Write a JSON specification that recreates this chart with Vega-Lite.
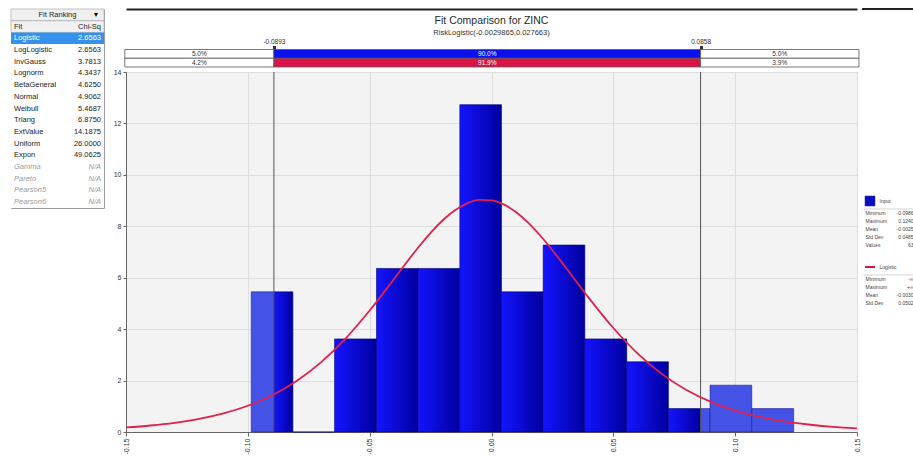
{
  "$schema": "https://vega.github.io/schema/vega-lite/v6.json",
  "background": "white",
  "padding": {"left": 10, "top": 8, "right": 0, "bottom": 0},
  "config": {
    "font": "Liberation Sans",
    "view": {"stroke": null},
    "axis": {"labelFont": "Liberation Sans", "labelColor": "#333333", "domainColor": "#666666", "tickColor": "#666666", "titleFont": "Liberation Sans"}
  },
  "datasets": {
    "fits": [
      {"rank": -1, "fit": "Fit Ranking", "chi": "▼"},
      {"rank": 0, "fit": "Fit", "chi": "Chi-Sq"},
      {"rank": 1, "fit": "Logistic", "chi": "2.6563"},
      {"rank": 2, "fit": "LogLogistic", "chi": "2.6563"},
      {"rank": 3, "fit": "InvGauss", "chi": "3.7813"},
      {"rank": 4, "fit": "Lognorm", "chi": "4.3437"},
      {"rank": 5, "fit": "BetaGeneral", "chi": "4.6250"},
      {"rank": 6, "fit": "Normal", "chi": "4.9062"},
      {"rank": 7, "fit": "Weibull", "chi": "5.4687"},
      {"rank": 8, "fit": "Triang", "chi": "6.8750"},
      {"rank": 9, "fit": "ExtValue", "chi": "14.1875"},
      {"rank": 10, "fit": "Uniform", "chi": "26.0000"},
      {"rank": 11, "fit": "Expon", "chi": "49.0625"},
      {"rank": 12, "fit": "Gamma", "chi": "N/A"},
      {"rank": 13, "fit": "Pareto", "chi": "N/A"},
      {"rank": 14, "fit": "Pearson5", "chi": "N/A"},
      {"rank": 15, "fit": "Pearson6", "chi": "N/A"}
    ],
    "heading": [
      {"part": "title", "text": "Fit Comparison for ZINC"},
      {"part": "subtitle", "text": "RiskLogistic(-0.0029865,0.027663)"}
    ],
    "cover": [
      {"row": "Input", "lo": -0.1505, "hi": -0.0893, "label": "5.0%", "seg": "side"},
      {"row": "Input", "lo": -0.0893, "hi": 0.0858, "label": "90.0%", "seg": "mid"},
      {"row": "Input", "lo": 0.0858, "hi": 0.1508, "label": "5.0%", "seg": "side"},
      {"row": "Logistic", "lo": -0.1505, "hi": -0.0893, "label": "4.2%", "seg": "side"},
      {"row": "Logistic", "lo": -0.0893, "hi": 0.0858, "label": "91.9%", "seg": "mid"},
      {"row": "Logistic", "lo": 0.0858, "hi": 0.1508, "label": "3.9%", "seg": "side"}
    ],
    "bins": [
      {"lo": -0.0986, "hi": -0.0893, "density": 5.45, "part": "tail"},
      {"lo": -0.0893, "hi": -0.0815, "density": 5.45, "part": "body"},
      {"lo": -0.0815, "hi": -0.0644, "density": 0, "part": "body"},
      {"lo": -0.0644, "hi": -0.0472, "density": 3.62, "part": "body"},
      {"lo": -0.0472, "hi": -0.0301, "density": 6.36, "part": "body"},
      {"lo": -0.0301, "hi": -0.0130, "density": 6.36, "part": "body"},
      {"lo": -0.0130, "hi": 0.0041, "density": 12.73, "part": "body"},
      {"lo": 0.0041, "hi": 0.0212, "density": 5.45, "part": "body"},
      {"lo": 0.0212, "hi": 0.0383, "density": 7.27, "part": "body"},
      {"lo": 0.0383, "hi": 0.0555, "density": 3.62, "part": "body"},
      {"lo": 0.0555, "hi": 0.0726, "density": 2.73, "part": "body"},
      {"lo": 0.0726, "hi": 0.0858, "density": 0.91, "part": "body"},
      {"lo": 0.0858, "hi": 0.0897, "density": 0.91, "part": "tail"},
      {"lo": 0.0897, "hi": 0.1068, "density": 1.82, "part": "tail"},
      {"lo": 0.1068, "hi": 0.1240, "density": 0.91, "part": "tail"}
    ],
    "marks": [{"v": -0.0893}, {"v": 0.0858}],
    "curve": [
      {"x": -0.15, "pdf": 0.176}, {"x": -0.14, "pdf": 0.252}, {"x": -0.13, "pdf": 0.359},
      {"x": -0.12, "pdf": 0.511}, {"x": -0.11, "pdf": 0.725}, {"x": -0.10, "pdf": 1.022},
      {"x": -0.09, "pdf": 1.430}, {"x": -0.08, "pdf": 1.982}, {"x": -0.07, "pdf": 2.706},
      {"x": -0.06, "pdf": 3.622}, {"x": -0.05, "pdf": 4.723}, {"x": -0.04, "pdf": 5.952},
      {"x": -0.03, "pdf": 7.184}, {"x": -0.025, "pdf": 7.746}, {"x": -0.02, "pdf": 8.234},
      {"x": -0.015, "pdf": 8.624}, {"x": -0.01, "pdf": 8.894}, {"x": -0.005, "pdf": 9.026},
      {"x": 0.0, "pdf": 9.011}, {"x": 0.005, "pdf": 8.852}, {"x": 0.01, "pdf": 8.558},
      {"x": 0.015, "pdf": 8.146}, {"x": 0.02, "pdf": 7.641}, {"x": 0.025, "pdf": 7.069},
      {"x": 0.03, "pdf": 6.457}, {"x": 0.04, "pdf": 5.208}, {"x": 0.05, "pdf": 4.045},
      {"x": 0.06, "pdf": 3.051}, {"x": 0.07, "pdf": 2.251}, {"x": 0.08, "pdf": 1.633},
      {"x": 0.09, "pdf": 1.172}, {"x": 0.10, "pdf": 0.833}, {"x": 0.11, "pdf": 0.588},
      {"x": 0.12, "pdf": 0.414}, {"x": 0.13, "pdf": 0.291}, {"x": 0.14, "pdf": 0.203},
      {"x": 0.15, "pdf": 0.142}
    ],
    "legend": [
      {"line": 0, "kind": "frame"},
      {"line": 48, "name": "Input", "kind": "series"},
      {"line": 50, "kind": "sep"},
      {"line": 51, "name": "Minimum", "value": "-0.0986", "kind": "stat"},
      {"line": 53, "name": "Maximum", "value": "0.1240", "kind": "stat"},
      {"line": 55, "name": "Mean", "value": "-0.0025", "kind": "stat"},
      {"line": 57, "name": "Std Dev", "value": "0.0485", "kind": "stat"},
      {"line": 59, "name": "Values", "value": "63", "kind": "stat"},
      {"line": 64.5, "name": "Logistic", "kind": "series"},
      {"line": 66.5, "kind": "sep"},
      {"line": 67.6, "name": "Minimum", "value": "-∞", "kind": "stat"},
      {"line": 69.6, "name": "Maximum", "value": "+∞", "kind": "stat"},
      {"line": 71.6, "name": "Mean", "value": "-0.0030", "kind": "stat"},
      {"line": 73.6, "name": "Std Dev", "value": "0.0502", "kind": "stat"}
    ]
  },
  "spacing": 7,
  "hconcat": [
    {
      "width": 93,
      "height": 199,
      "data": {"name": "fits"},
      "view": {"stroke": "#9c9c9c", "fill": "white"},
      "encoding": {
        "y": {"field": "rank", "type": "ordinal", "axis": null, "scale": {"domain": [-1, 0, 1, 2, 3, 4, 5, 6, 7, 8, 9, 10, 11, 12, 13, 14, 15], "paddingInner": 0, "paddingOuter": 0}}
      },
      "layer": [
        {
          "mark": {"type": "rect", "strokeWidth": 0.8},
          "encoding": {
            "x": {"datum": 0, "type": "quantitative", "scale": {"domain": [0, 1], "nice": false, "zero": false}, "axis": null},
            "x2": {"datum": 1},
            "fill": {"condition": [{"test": "datum.rank == 1", "value": "#3592ec"}, {"test": "datum.rank <= 0", "value": "#f0f0f0"}], "value": "#ffffff"},
            "stroke": {"condition": {"test": "datum.rank <= 0", "value": "#b4b4b4"}, "value": "transparent"}
          }
        },
        {
          "transform": [{"filter": "datum.rank >= 0 && datum.rank <= 11"}],
          "mark": {"type": "text", "align": "left", "dx": 3, "fontSize": 7.5},
          "encoding": {
            "x": {"datum": 0, "type": "quantitative"},
            "text": {"field": "fit"},
            "color": {"condition": {"test": "datum.rank == 1", "value": "#ffffff"}, "value": "#222222"}
          }
        },
        {
          "transform": [{"filter": "datum.rank >= 0 && datum.rank <= 11"}],
          "mark": {"type": "text", "align": "right", "dx": -3, "fontSize": 7.5},
          "encoding": {
            "x": {"datum": 1, "type": "quantitative"},
            "text": {"field": "chi"},
            "color": {"condition": {"test": "datum.rank == 1", "value": "#ffffff"}, "value": "#222222"}
          }
        },
        {
          "transform": [{"filter": "datum.rank >= 12"}],
          "mark": {"type": "text", "align": "left", "dx": 3, "fontSize": 7.5, "fontStyle": "italic", "color": "#9a9a9a"},
          "encoding": {"x": {"datum": 0, "type": "quantitative"}, "text": {"field": "fit"}}
        },
        {
          "transform": [{"filter": "datum.rank >= 12"}],
          "mark": {"type": "text", "align": "right", "dx": -3, "fontSize": 7.5, "fontStyle": "italic", "color": "#9a9a9a"},
          "encoding": {"x": {"datum": 1, "type": "quantitative"}, "text": {"field": "chi"}}
        },
        {
          "transform": [{"filter": "datum.rank == -1"}],
          "mark": {"type": "text", "align": "center", "fontSize": 7.5, "color": "#222222"},
          "encoding": {"x": {"datum": 0.5, "type": "quantitative"}, "text": {"field": "fit"}}
        },
        {
          "transform": [{"filter": "datum.rank == -1"}],
          "mark": {"type": "text", "align": "center", "fontSize": 7, "color": "#111111", "dx": -8},
          "encoding": {"x": {"datum": 1, "type": "quantitative"}, "text": {"field": "chi"}}
        }
      ]
    },
    {
      "spacing": -4,
      "hconcat": [
        {
          "bounds": "flush",
          "spacing": 4.5,
          "vconcat": [
            {
              "width": 731,
              "height": 35.5,
              "data": {"name": "heading"},
              "encoding": {
                "y": {"field": "part", "type": "nominal", "axis": null, "scale": {"type": "point", "domain": ["title", "subtitle"], "padding": 1.368}},
                "x": {"datum": 0.5, "type": "quantitative", "scale": {"domain": [0, 1], "nice": false, "zero": false}, "axis": {"orient": "top", "domain": true, "domainColor": "#222222", "domainWidth": 2, "ticks": false, "labels": false, "grid": false, "title": null}}
              },
              "layer": [
                {
                  "transform": [{"filter": "datum.part == 'title'"}],
                  "mark": {"type": "text", "fontSize": 10.5, "color": "#2a2a2a"},
                  "encoding": {"text": {"field": "text"}}
                },
                {
                  "transform": [{"filter": "datum.part == 'subtitle'"}],
                  "mark": {"type": "text", "fontSize": 7.5, "color": "#333333"},
                  "encoding": {"text": {"field": "text"}}
                }
              ]
            },
            {
              "width": 731,
              "height": 17.5,
              "data": {"name": "cover"},
              "transform": [{"calculate": "(datum.lo + datum.hi) / 2", "as": "mid"}],
              "encoding": {
                "y": {"field": "row", "type": "nominal", "axis": null, "scale": {"domain": ["Input", "Logistic"], "paddingInner": 0, "paddingOuter": 0}}
              },
              "layer": [
                {
                  "mark": {"type": "rect", "stroke": "#555555", "strokeWidth": 0.8, "clip": false},
                  "encoding": {
                    "x": {
                      "field": "lo", "type": "quantitative", "title": null,
                      "scale": {"domain": [-0.15, 0.15], "nice": false, "zero": false},
                      "axis": {"orient": "top", "values": [-0.0893, 0.0858], "labelExpr": "replace(format(datum.value, '.4f'), '\u2212', '-')", "domain": false, "grid": false, "tickSize": 4, "tickWidth": 3, "tickColor": "#333333", "labelFontSize": 6.5, "labelPadding": 1, "labelFlush": false}
                    },
                    "x2": {"field": "hi"},
                    "fill": {"condition": [{"test": "datum.seg == 'side'", "value": "#ffffff"}, {"test": "datum.row == 'Input'", "value": "#0a10ee"}], "value": "#dc1446"}
                  }
                },
                {
                  "mark": {"type": "text", "fontSize": 6.5},
                  "encoding": {
                    "x": {"field": "mid", "type": "quantitative", "title": null},
                    "text": {"field": "label"},
                    "color": {"condition": {"test": "datum.seg == 'mid'", "value": "#ffffff"}, "value": "#333333"}
                  }
                }
              ]
            },
            {
              "width": 731,
              "height": 360,
              "view": {"fill": "#f3f3f3", "stroke": "#bbbbbb"},
              "layer": [
                {
                  "data": {"name": "bins"},
                  "transform": [{"filter": "datum.part == 'body'"}],
                  "mark": {
                    "type": "rect",
                    "stroke": "#00007a",
                    "strokeWidth": 0.6,
                    "fill": {"gradient": "linear", "x1": 0, "y1": 0, "x2": 1, "y2": 0, "stops": [{"offset": 0, "color": "#1414ff"}, {"offset": 1, "color": "#00009e"}]}
                  },
                  "encoding": {
                    "x": {
                      "field": "lo", "type": "quantitative", "title": null,
                      "scale": {"domain": [-0.15, 0.15], "nice": false, "zero": false},
                      "axis": {"values": [-0.15, -0.1, -0.05, 0, 0.05, 0.1, 0.15], "labelExpr": "replace(format(datum.value, '.2f'), '\u2212', '-')", "labelAngle": -90, "grid": true, "gridColor": "#dedede", "tickSize": 4, "labelFontSize": 7, "labelPadding": 2, "labelFlush": false}
                    },
                    "x2": {"field": "hi"},
                    "y": {
                      "field": "density", "type": "quantitative", "title": null,
                      "scale": {"domain": [0, 14], "nice": false},
                      "axis": {"values": [0, 2, 4, 6, 8, 10, 12, 14], "grid": true, "gridColor": "#dedede", "tickSize": 3, "labelFontSize": 7, "labelPadding": 2}
                    },
                    "y2": {"datum": 0}
                  }
                },
                {
                  "data": {"name": "bins"},
                  "transform": [{"filter": "datum.part == 'tail'"}],
                  "mark": {"type": "rect", "stroke": "#1a1a9a", "strokeWidth": 0.6, "fill": "#4452e6"},
                  "encoding": {
                    "x": {"field": "lo", "type": "quantitative", "title": null},
                    "x2": {"field": "hi"},
                    "y": {"field": "density", "type": "quantitative", "title": null},
                    "y2": {"datum": 0}
                  }
                },
                {
                  "data": {"name": "marks"},
                  "mark": {"type": "rule", "color": "#555555", "strokeWidth": 1},
                  "encoding": {"x": {"field": "v", "type": "quantitative", "title": null}}
                },
                {
                  "data": {"name": "curve"},
                  "mark": {"type": "line", "color": "#e0204d", "strokeWidth": 1.8, "interpolate": "monotone"},
                  "encoding": {
                    "x": {"field": "x", "type": "quantitative", "title": null},
                    "y": {"field": "pdf", "type": "quantitative", "title": null}
                  }
                }
              ]
            }
          ]
        },
        {
          "width": 53,
          "height": 422,
          "data": {"name": "legend"},
          "encoding": {
            "y": {"field": "line", "type": "quantitative", "axis": null, "scale": {"domain": [0, 105.5], "reverse": true, "nice": false, "zero": false}}
          },
          "layer": [
            {
              "transform": [{"filter": "datum.kind == 'frame'"}],
              "mark": {"type": "rule", "color": "#222222", "strokeWidth": 2},
              "encoding": {
                "x": {"datum": 0, "type": "quantitative", "scale": {"domain": [0, 1], "nice": false, "zero": false}, "axis": null},
                "x2": {"datum": 1}
              }
            },
            {
              "transform": [{"filter": "datum.kind == 'sep'"}],
              "mark": {"type": "rule", "color": "#c8c8c8", "strokeWidth": 0.8},
              "encoding": {
                "x": {"datum": 0.03, "type": "quantitative"},
                "x2": {"datum": 1}
              }
            },
            {
              "transform": [{"filter": "datum.name == 'Input'"}],
              "mark": {"type": "point", "shape": "square", "size": 95, "filled": true, "color": "#0a0acc", "stroke": "#000060", "strokeWidth": 0.6, "opacity": 1},
              "encoding": {"x": {"datum": 0.151, "type": "quantitative"}}
            },
            {
              "transform": [{"filter": "datum.name == 'Logistic'"}],
              "mark": {"type": "point", "shape": "M-1,0L1,0", "size": 100, "filled": false, "stroke": "#dc1446", "strokeWidth": 2, "opacity": 1},
              "encoding": {"x": {"datum": 0.151, "type": "quantitative"}}
            },
            {
              "transform": [{"filter": "datum.kind == 'series'"}],
              "mark": {"type": "text", "align": "left", "fontSize": 5, "color": "#444444"},
              "encoding": {"x": {"datum": 0.33, "type": "quantitative"}, "text": {"field": "name"}}
            },
            {
              "transform": [{"filter": "datum.kind == 'stat'"}],
              "mark": {"type": "text", "align": "left", "fontSize": 5, "color": "#444444"},
              "encoding": {"x": {"datum": 0.066, "type": "quantitative"}, "text": {"field": "name"}}
            },
            {
              "transform": [{"filter": "datum.kind == 'stat'"}],
              "mark": {"type": "text", "align": "right", "fontSize": 5, "color": "#444444"},
              "encoding": {"x": {"datum": 0.972, "type": "quantitative"}, "text": {"field": "value"}}
            }
          ]
        }
      ]
    }
  ]
}
